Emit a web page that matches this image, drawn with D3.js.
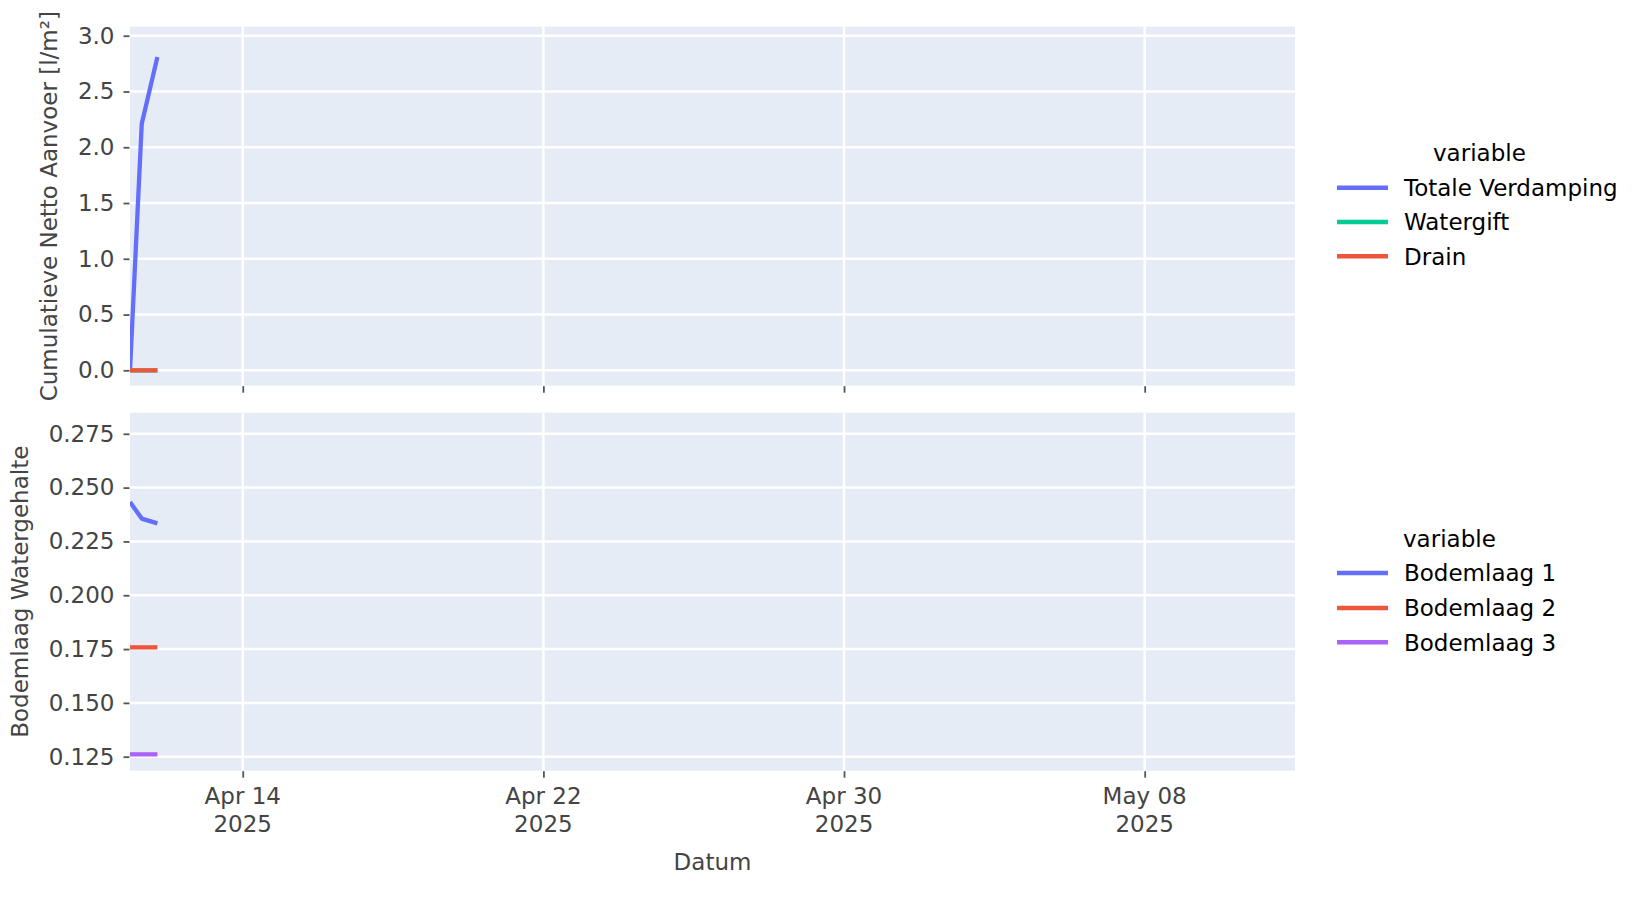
<!DOCTYPE html>
<html>
<head>
<meta charset="utf-8">
<script src="https://cdn.jsdelivr.net/npm/d3@7"></script>
<style>
  html, body { margin: 0; padding: 0; background: #fff; }
  svg { display: block; font-family: "DejaVu Sans", sans-serif; }
</style>
</head>
<body>
<svg id="chart" width="1650" height="900"></svg>
<script>
// ---- Data ----
const times = ["2025-04-11T00:00:00Z", "2025-04-11T07:30:00Z", "2025-04-11T17:30:00Z"];
const totaleVerdamping = [0, 2.21, 2.81];
const watergift = [0, 0, 0];
const drain = [0, 0, 0];
const bodemlaag1 = [0.2433, 0.2356, 0.2334];
const bodemlaag2 = [0.1758, 0.1758, 0.1758];
const bodemlaag3 = [0.1261, 0.1261, 0.1261];

const xDomain = ["2025-04-11T00:00:00Z", "2025-05-12T00:00:00Z"];
const xTickDates = ["2025-04-14T00:00:00Z", "2025-04-22T00:00:00Z", "2025-04-30T00:00:00Z", "2025-05-08T00:00:00Z"];
const yTicksTop = [0, 0.5, 1.0, 1.5, 2.0, 2.5, 3.0];
const yTicksBottom = [0.125, 0.15, 0.175, 0.2, 0.225, 0.25, 0.275];
const yDomainTop = [-0.138, 3.081];
const yDomainBottom = [0.1185, 0.2848];

const topSeries = [
  { name: "Totale Verdamping", values: totaleVerdamping, color: "#636efa" },
  { name: "Watergift", values: watergift, color: "#00cc96" },
  { name: "Drain", values: drain, color: "#EF553B" }
];
const bottomSeries = [
  { name: "Bodemlaag 1", values: bodemlaag1, color: "#636efa" },
  { name: "Bodemlaag 2", values: bodemlaag2, color: "#EF553B" },
  { name: "Bodemlaag 3", values: bodemlaag3, color: "#ab63fa" }
];

// ---- Layout ----
const FS = 23;
const svg = d3.select("#chart");
const left = 130, right = 1295;
const panels = [
  { top: 26.7, bottom: 385.7, domain: yDomainTop, ticks: yTicksTop, fmt: d3.format(".1f"),
    series: topSeries, title: "Cumulatieve Netto Aanvoer [l/m²]", titleX: 48.5, showXLabels: false,
    legend: { titleX: 1433, titleY: 160.7, itemsY: [187.7, 222, 256.3] } },
  { top: 412.7, bottom: 770.7, domain: yDomainBottom, ticks: yTicksBottom, fmt: d3.format(".3f"),
    series: bottomSeries, title: "Bodemlaag Watergehalte", titleX: 19.5, showXLabels: true,
    legend: { titleX: 1403, titleY: 546.7, itemsY: [573, 608, 642.3] } }
];

const x = d3.scaleUtc().domain(xDomain.map(d => new Date(d))).range([left, right]);
const xTicks = xTickDates.map(d => new Date(d));
const fmtMD = d3.utcFormat("%b %d");
const fmtY = d3.utcFormat("%Y");

panels.forEach((p, i) => {
  const y = d3.scaleLinear().domain(p.domain).range([p.bottom, p.top]);
  const g = svg.append("g");

  g.append("rect").attr("x", left).attr("y", p.top)
    .attr("width", right - left).attr("height", p.bottom - p.top).attr("fill", "#E5ECF6");

  g.selectAll(".vg").data(xTicks).join("line")
    .attr("x1", d => x(d)).attr("x2", d => x(d))
    .attr("y1", p.top).attr("y2", p.bottom)
    .attr("stroke", "#fff").attr("stroke-width", 2.5);
  g.selectAll(".hg").data(p.ticks).join("line")
    .attr("x1", left).attr("x2", right)
    .attr("y1", d => y(d)).attr("y2", d => y(d))
    .attr("stroke", "#fff").attr("stroke-width", 2.5);

  const yAxis = d3.axisLeft(y).tickValues(p.ticks).tickFormat(p.fmt).tickSize(6).tickPadding(9);
  const ya = svg.append("g").attr("transform", `translate(${left - 0.5},0)`).call(yAxis);
  ya.select(".domain").remove();
  ya.selectAll(".tick line").attr("stroke", "#555").attr("stroke-width", 1.8);
  ya.selectAll(".tick text").attr("fill", "#444").attr("font-size", FS)
    .attr("font-family", "DejaVu Sans, sans-serif");

  const xAxis = d3.axisBottom(x).tickValues(xTicks).tickSize(6.5).tickFormat("");
  const xa = svg.append("g").attr("transform", `translate(0,${p.bottom + 0.5})`).call(xAxis);
  xa.select(".domain").remove();
  xa.selectAll(".tick line").attr("stroke", "#555").attr("stroke-width", 1.8);

  if (p.showXLabels) {
    const lab = svg.append("g").attr("font-size", FS).attr("fill", "#444").attr("text-anchor", "middle");
    lab.selectAll(".l1").data(xTicks).join("text")
      .attr("x", d => x(d)).attr("y", 796.2).attr("dy", "0.36em").text(d => fmtMD(d));
    lab.selectAll(".l2").data(xTicks).join("text")
      .attr("x", d => x(d)).attr("y", 823.3).attr("dy", "0.36em").text(d => fmtY(d));
  }

  const cy = (p.top + p.bottom) / 2;
  svg.append("text").attr("transform", `translate(${p.titleX},${cy}) rotate(-90)`)
    .attr("text-anchor", "middle").attr("dy", "0.36em")
    .attr("font-size", FS).attr("fill", "#444").text(p.title);

  const clipId = "clip" + i;
  svg.append("clipPath").attr("id", clipId).append("rect")
    .attr("x", left).attr("y", p.top).attr("width", right - left).attr("height", p.bottom - p.top);

  const line = d3.line().x((d, k) => x(new Date(times[k]))).y(d => y(d));
  const lg = svg.append("g").attr("clip-path", `url(#${clipId})`);
  p.series.forEach(s => {
    lg.append("path").datum(s.values).attr("d", line)
      .attr("fill", "none").attr("stroke", s.color).attr("stroke-width", 4.3)
      .attr("stroke-linejoin", "round").attr("stroke-linecap", "butt");
  });

  const L = svg.append("g").attr("font-size", FS);
  L.append("text").attr("x", p.legend.titleX).attr("y", p.legend.titleY)
    .attr("fill", "#000").text("variable");
  p.series.forEach((s, k) => {
    const yy = p.legend.itemsY[k];
    L.append("line").attr("x1", 1337).attr("x2", 1388).attr("y1", yy).attr("y2", yy)
      .attr("stroke", s.color).attr("stroke-width", 4.6);
    L.append("text").attr("x", 1404).attr("y", yy).attr("dy", "0.36em")
      .attr("fill", "#000").text(s.name);
  });
});

svg.append("text").attr("x", (left + right) / 2).attr("y", 861.7).attr("dy", "0.36em")
  .attr("text-anchor", "middle").attr("font-size", FS).attr("fill", "#444").text("Datum");
</script>
</body>
</html>
